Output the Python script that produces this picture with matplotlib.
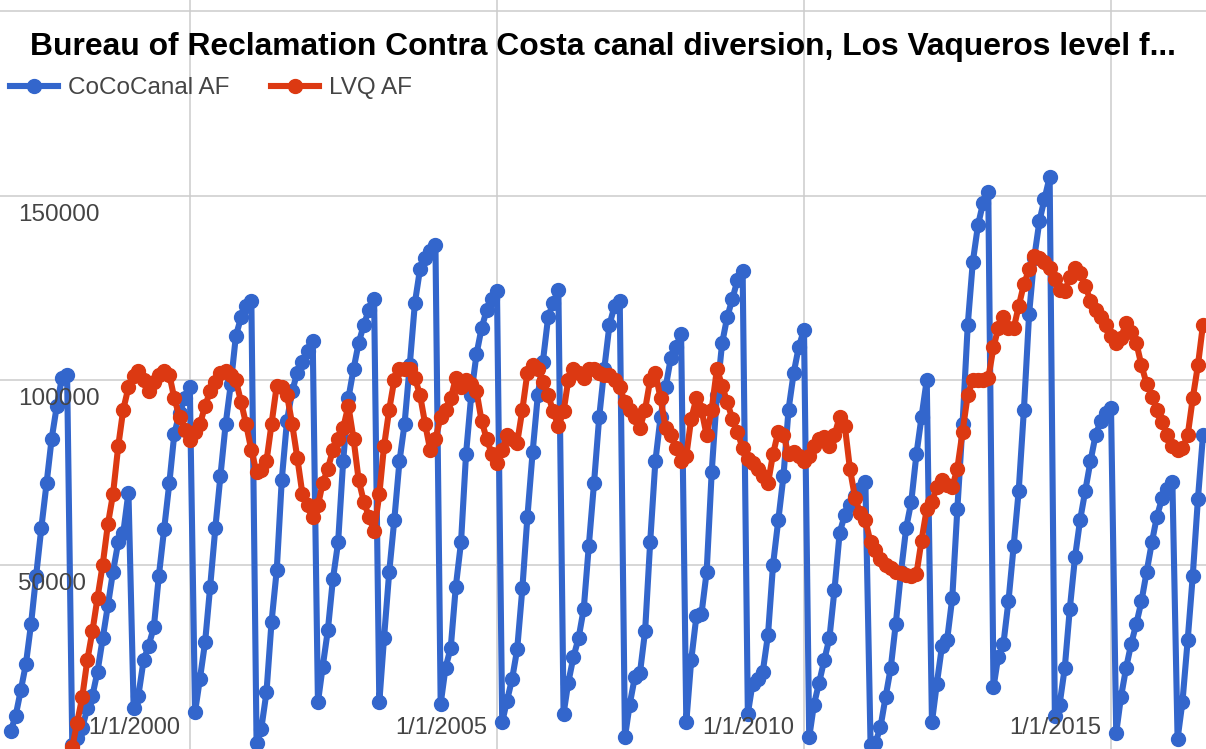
import matplotlib
matplotlib.use("Agg")
import matplotlib.pyplot as plt
import matplotlib.dates as mdates
import pandas as pd

plt.rcParams['font.family'] = ['Liberation Sans', 'DejaVu Sans']

title = "Bureau of Reclamation Contra Costa canal diversion, Los Vaqueros level f..."

# CoCoCanal AF, cumulative per calendar year (Jan..Dec)
canal_1997 = [5000, 9000, 16000, 23000, 34000, 47000, 60000, 72000, 84000, 93000, 100500, 101500]
canal_1998 = [1000, 3000, 5600, 11000, 14500, 21000, 30000, 39000, 48000, 56000, 58500, 69500]
canal_1999 = [11000, 14500, 24000, 28000, 33000, 47000, 59600, 72000, 85500, 91000, 95000, 98000]
canal_2000 = [10000, 19000, 29000, 44000, 60000, 74000, 88000, 99000, 112000, 117000, 120000, 121500]
canal_2001 = [1600, 5500, 15400, 34400, 48500, 73000, 89000, 97000, 102000, 105000, 108000, 110500]
canal_2002 = [12700, 22200, 32200, 46000, 56000, 78000, 95000, 103000, 110000, 115000, 119000, 122000]
canal_2003 = [12700, 30000, 48000, 62000, 78000, 88000, 104000, 121000, 130000, 133000, 135000, 136500]
canal_2004 = [12300, 22000, 27500, 44000, 56000, 80000, 96000, 107000, 114000, 119000, 122000, 124000]
canal_2005 = [7300, 13000, 19000, 27000, 43600, 63000, 80500, 96000, 105000, 117000, 121000, 124500]
canal_2006 = [9600, 18000, 25000, 30000, 38000, 55000, 72000, 90000, 103000, 115000, 120000, 121500]
canal_2007 = [3200, 12000, 19500, 20500, 32000, 56000, 78000, 90000, 98000, 106000, 109000, 112500]
canal_2008 = [7300, 24000, 36000, 36500, 48000, 75000, 96000, 110000, 117000, 122000, 127000, 129500]
canal_2009 = [9600, 17700, 19000, 21000, 31000, 50000, 62000, 74000, 92000, 102000, 109000, 113600]
canal_2010 = [3200, 12000, 18000, 24000, 30000, 43000, 58600, 63500, 66000, 68500, 70500, 72500]
canal_2011 = [1000, 1500, 6000, 14000, 22000, 34000, 48000, 60000, 67000, 80000, 90000, 100000]
canal_2012 = [7300, 17700, 28000, 29500, 41000, 65000, 88000, 115000, 132000, 142000, 148000, 151000]
canal_2013 = [16700, 25000, 28500, 40000, 55000, 70000, 92000, 118000, 133000, 143000, 149000, 155000]
canal_2014 = [9000, 12000, 22000, 38000, 52000, 62000, 70000, 78000, 85000, 89000, 91000, 92500]
canal_2015 = [4400, 14000, 22000, 28500, 34000, 40000, 48000, 56000, 63000, 68000, 70500, 72500]
canal_2016 = [2800, 12800, 29500, 46800, 67800, 85000]

# LVQ AF, Los Vaqueros storage level (Jan..Dec)
lvq_1998 = [500, 7000, 14000, 24000, 32000, 41000, 50000, 61000, 69000, 82000, 92000, 98000]
lvq_1999 = [101000, 102500, 100000, 97000, 99500, 101500, 102500, 101500, 95000, 90000, 86500, 83700]
lvq_2000 = [86000, 88000, 93000, 97000, 99500, 102000, 102500, 101500, 100000, 94000, 88000, 81000]
lvq_2001 = [75000, 75500, 78000, 88000, 98500, 98000, 96000, 88000, 79000, 69000, 66000, 63000]
lvq_2002 = [66000, 72000, 76000, 81000, 84000, 87000, 93000, 84000, 73000, 67000, 63000, 59000]
lvq_2003 = [69000, 82000, 92000, 100000, 103000, 103000, 103000, 100500, 96000, 88000, 81000, 84000]
lvq_2004 = [90000, 92000, 95000, 100500, 98000, 100000, 99000, 97000, 89000, 84000, 80000, 77500]
lvq_2005 = [81000, 85000, 84000, 83000, 92000, 102000, 104000, 103000, 99500, 96000, 91500, 87500]
lvq_2006 = [91500, 100000, 103000, 102000, 100500, 103000, 103000, 102000, 101500, 101500, 100000, 98000]
lvq_2007 = [94000, 92000, 90000, 87000, 92000, 100000, 102000, 95000, 87000, 85000, 81500, 78000]
lvq_2008 = [79500, 89500, 95000, 92000, 85000, 92000, 103000, 98500, 94000, 89500, 86000, 81500]
lvq_2009 = [78500, 77500, 76000, 74000, 72000, 80000, 86000, 85000, 80000, 80500, 79500, 78000]
lvq_2010 = [79500, 82000, 84000, 84500, 82000, 85000, 90000, 87500, 76000, 68000, 64000, 62000]
lvq_2011 = [56000, 54000, 51500, 50000, 49000, 48000, 47600, 47200, 47000, 47500, 56500, 65000]
lvq_2012 = [67000, 71000, 73000, 71500, 71000, 76000, 86000, 96000, 100000, 100000, 100000, 100500]
lvq_2013 = [108900, 114000, 117000, 114000, 114000, 120000, 126000, 130000, 133500, 133000, 132000, 130500]
lvq_2014 = [127500, 124500, 124000, 128000, 130500, 129000, 125500, 121500, 119000, 117000, 115000, 112000]
lvq_2015 = [110000, 111500, 115500, 113000, 110000, 104000, 99000, 95500, 92000, 88500, 85000, 82000]
lvq_2016 = [81000, 81500, 85000, 95000, 104000, 115000]

canal_af = (canal_1997 + canal_1998 + canal_1999 + canal_2000 + canal_2001 + canal_2002
            + canal_2003 + canal_2004 + canal_2005 + canal_2006 + canal_2007 + canal_2008
            + canal_2009 + canal_2010 + canal_2011 + canal_2012 + canal_2013 + canal_2014
            + canal_2015 + canal_2016)
lvq_af = (lvq_1998 + lvq_1999 + lvq_2000 + lvq_2001 + lvq_2002 + lvq_2003 + lvq_2004
          + lvq_2005 + lvq_2006 + lvq_2007 + lvq_2008 + lvq_2009 + lvq_2010 + lvq_2011
          + lvq_2012 + lvq_2013 + lvq_2014 + lvq_2015 + lvq_2016)

canal_dates = pd.date_range("1997-01-31", periods=len(canal_af), freq="ME")
lvq_dates = pd.date_range("1998-01-31", periods=len(lvq_af), freq="ME")

grid_years = [2000, 2005, 2010, 2015]
y_ticks = [50000, 100000, 150000]

fig = plt.figure(figsize=(12.06, 7.49), dpi=100)
ax = fig.add_axes([0, 0, 1, 1])

ax.plot(canal_dates, canal_af, color='#3366cc', lw=4.4, marker='o', ms=10,
        label='CoCoCanal AF', zorder=3)
ax.plot(lvq_dates, lvq_af, color='#dc3912', lw=4.4, marker='o', ms=10,
        label='LVQ AF', zorder=4)

ax.set_xlim(pd.Timestamp("1996-11-27"), pd.Timestamp("2016-07-18"))
ax.set_ylim(0, 203000)
grid_dates = [pd.Timestamp(f"{y}-01-01") for y in grid_years]
ax.set_xticks(grid_dates)
ax.set_yticks(y_ticks + [200000])
ax.tick_params(length=0, labelleft=False, labelbottom=False)
ax.grid(color='#cccccc', lw=1.1)
ax.set_axisbelow(True)
for s in ax.spines.values():
    s.set_visible(False)

# axis labels sit inside the plot, as in the original
for v in y_ticks:
    ax.annotate(str(v), xy=(0, v), xycoords=ax.get_yaxis_transform(),
                xytext=(18, -19), textcoords='offset pixels',
                ha='left', va='center', fontsize=17.5, color='#444444')
for d in grid_dates:
    ax.annotate(f"1/1/{d.year}", xy=(mdates.date2num(d), 0),
                xycoords=ax.get_xaxis_transform(),
                xytext=(-56, 21), textcoords='offset pixels',
                ha='center', va='center', fontsize=17, color='#444444')

fig.text(30 / 1206, 1 - 47 / 749, title, fontsize=22.9, fontweight='bold',
         color='black', ha='left', va='center')
fig.legend(loc='center left', bbox_to_anchor=(10 / 1206, 1 - 88 / 749), ncol=2,
           frameon=False, fontsize=17.5, labelcolor='#444444', handlelength=1.97,
           handletextpad=0.41, columnspacing=1.73, borderpad=0, borderaxespad=0)

fig.savefig("out.png", dpi=100)
